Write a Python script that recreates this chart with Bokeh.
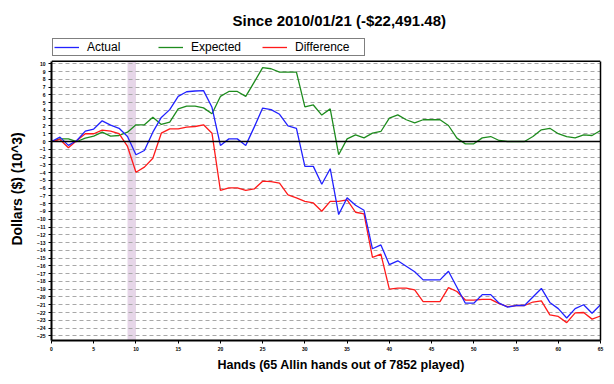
from bokeh.plotting import figure
from bokeh.models import (Range1d, FixedTicker, Span, BoxAnnotation, Legend,
                          LegendItem, LinearAxis, Title)
from bokeh.embed import file_html
from bokeh.resources import INLINE

hands = list(range(66))
actual = [0, 0.56, -0.5, 0.13, 1.33, 1.6, 2.66, 2.1, 1.7, 0.64,
          -1.7, -1.16, 1.2, 3.1, 4.1, 5.8, 6.4, 6.5, 6.55, 4.4,
          -0.5, 0.34, 0.34, -0.5, 1.85, 4.3, 4.1, 3.5, 2.0, 1.7,
          -3.2, -3.2, -5.5, -3.5, -9.4, -7.25, -8.2, -8.85, -13.8, -13.3,
          -15.85, -15.35, -16.05, -16.75, -17.8, -17.8, -17.8, -16.7, -18.75, -20.8,
          -20.8, -19.7, -19.7, -20.8, -21.3, -21.1, -21.1, -20.0, -18.9, -20.7,
          -21.5, -22.7, -21.5, -21.0, -22.1, -21.0]
expected = [0, 0.34, 0.34, 0, 0.43, 0.69, 1.2, 0.69, 0.77, 1.2,
            2.15, 2.15, 3.13, 2.2, 2.5, 4.2, 4.55, 4.55, 4.33, 3.56,
            5.8, 6.44, 6.44, 5.8, 7.64, 9.5, 9.36, 8.93, 8.93, 8.93,
            4.45, 4.7, 3.4, 4.2, -1.7, 0.34, 0.86, 0.47, 1.07, 1.29,
            3.0, 3.43, 2.8, 2.4, 2.8, 2.8, 2.8, 2.06, 0.43, -0.3,
            -0.3, 0.47, 0.64, 0.13, 0, 0, 0, 0.64, 1.5, 1.7,
            1.0, 0.64, 0.47, 0.86, 0.77, 1.42]
difference = [0, 0.26, -0.8, 0.13, 1.0, 1.0, 1.46, 1.33, 1.0, -0.64,
              -3.95, -3.3, -2.15, 1.07, 1.63, 1.63, 1.85, 1.93, 2.15, 1.07,
              -6.3, -5.97, -5.97, -6.3, -6.1, -5.1, -5.15, -5.36, -6.87, -7.25,
              -7.7, -7.9, -8.97, -7.7, -7.7, -7.5, -9.1, -9.3, -14.9, -14.5,
              -19.0, -18.85, -18.85, -19.1, -20.6, -20.6, -20.6, -18.8, -19.3, -20.4,
              -20.4, -20.3, -20.3, -20.85, -21.25, -21.1, -21.1, -20.65, -20.5, -22.3,
              -22.5, -23.3, -22.05, -22.0, -22.85, -22.45]
y_ticks = list(range(-25, 11))
x_ticks = list(range(0, 66, 5))
highlight = (9, 10)

FONT = "Liberation Sans"
Y_LOW, Y_HIGH = -25.6, 10.33      # extent of the plotting box
Y_VIEW_TOP = 13.38                # extra room above the box for the legend

p = figure(width=612, height=382, output_backend="svg", toolbar_location=None,
           x_range=Range1d(0, 65), y_range=Range1d(Y_LOW, Y_VIEW_TOP),
           min_border_left=51, min_border_right=12, min_border_top=37,
           min_border_bottom=42)

p.title.text = "Since 2010/01/21 (-$22,491.48)"
p.title.align = "left"
p.title.offset = 181
p.title.standoff = 17
p.title.text_font = FONT
p.title.text_font_size = "15px"
p.title.text_font_style = "bold"
p.title.text_color = "black"

p.outline_line_color = None

# axes
p.xaxis.ticker = FixedTicker(ticks=x_ticks)
p.yaxis.ticker = FixedTicker(ticks=y_ticks)
p.yaxis.bounds = (Y_LOW, Y_HIGH)
for ax in (p.xaxis[0], p.yaxis[0]):
    ax.axis_line_width = 2
    ax.axis_line_color = "black"
    ax.major_tick_in = 0
    ax.major_tick_out = 3
    ax.minor_tick_out = 0
    ax.minor_tick_in = 0
    ax.major_label_text_font = FONT
    ax.major_label_text_font_size = "5px"
    ax.major_label_text_font_style = "bold"
    ax.major_label_text_color = "black"
    ax.major_label_standoff = 3
    ax.axis_label_text_font = FONT
    ax.axis_label_text_font_style = "bold"
    ax.axis_label_text_color = "black"
p.yaxis.axis_label = "Dollars ($) (10^3)"
p.yaxis.axis_label_text_font_size = "14px"
p.yaxis.axis_label_standoff = 9

# x-axis caption, placed as in the reference (right of centre)
p.add_layout(Title(text="Hands (65 Allin hands out of 7852 played)", align="left",
                   offset=166, standoff=5, text_font=FONT, text_font_size="12.5px",
                   text_font_style="bold", text_color="black"), "below")

# right border of the plotting box
right_axis = LinearAxis(ticker=FixedTicker(ticks=[]), bounds=(Y_LOW, Y_HIGH),
                        axis_line_width=1.5, axis_line_color="black",
                        major_tick_out=0, major_tick_in=0,
                        minor_tick_out=0, minor_tick_in=0)
p.add_layout(right_axis, "right")
# top border of the plotting box
p.add_layout(Span(location=Y_HIGH, dimension="width", line_color="black",
                  line_width=1.5))

p.xgrid.grid_line_color = None
p.ygrid.grid_line_color = "#a8a8a8"
p.ygrid.grid_line_dash = "4 3"
p.ygrid.grid_line_width = 1

band = BoxAnnotation(left=highlight[0], right=highlight[1], bottom=Y_LOW, top=Y_HIGH,
                     fill_color="#e6d6e8", fill_alpha=1.0, line_color=None,
                     level="image")
p.add_layout(band)

p.add_layout(Span(location=0, dimension="width", line_color="black", line_width=1.5))

r_exp = p.line(hands, expected, line_color="#1e8c1e", line_width=1.3)
r_diff = p.line(hands, difference, line_color="#ff1a1a", line_width=1.3)
r_act = p.line(hands, actual, line_color="#2222ff", line_width=1.3)

legend = Legend(items=[LegendItem(label="Actual", renderers=[r_act]),
                       LegendItem(label="Expected", renderers=[r_exp]),
                       LegendItem(label="Difference", renderers=[r_diff])],
                orientation="horizontal", location="top_left",
                glyph_width=25, glyph_height=10, label_width=68, label_standoff=8,
                spacing=3, padding=1, margin=1,
                border_line_color="black", border_line_width=1,
                label_text_font=FONT, label_text_font_size="12px",
                label_text_color="black", label_height=12)
p.add_layout(legend, "center")

open("out.html", "w").write(file_html(p, INLINE))
